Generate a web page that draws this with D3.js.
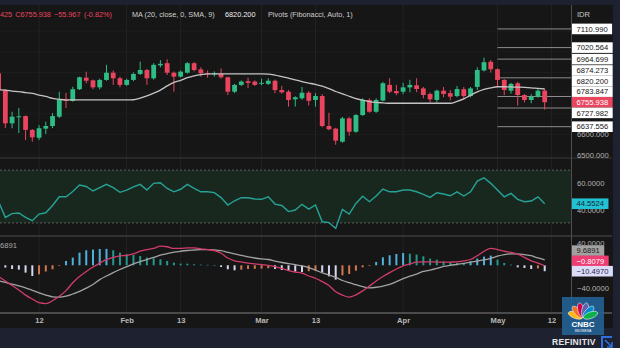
<!DOCTYPE html>
<html><head><meta charset="utf-8">
<script src="https://cdn.jsdelivr.net/npm/d3@7"></script>
<style>
html,body{margin:0;padding:0;background:#161616;overflow:hidden}
svg{display:block}
text{font-family:"Liberation Sans",Arial,sans-serif}
</style>
</head><body>
<svg id="c" width="620" height="348"></svg>
<script>
// ---------------- DATA ----------------
const opens  = [6896,6815,6654,6684,6689,6622,6584,6628,6641,6686, 6768,6762,6819,6875,6862,6828,6864,6899,6872,6840, 6864,6893,6912,6872,6935,6945,6899,6880,6899,6945, 6915,6895,6893,6893,6877,6807,6840,6858,6856,6847, 6845,6860,6815,6807,6770,6775,6802,6767,6786,6641, 6628,6565,6678,6613,6694,6767,6710,6764,6840,6810, 6807,6828,6838,6823,6796,6767,6812,6800,6786,6819, 6786,6830,6910,6952,6916,6864,6812,6848,6791,6767, 6783,6812];
const highs  = [6900,6820,6710,6728,6692,6626,6645,6662,6704,6807, 6801,6831,6880,6904,6866,6870,6937,6910,6880,6870, 6900,6953,6918,6945,6960,6964,6905,6910,6950,6950, 6925,6910,6905,6920,6880,6845,6862,6875,6862,6870, 6872,6866,6835,6815,6785,6830,6810,6800,6795,6705, 6632,6685,6685,6698,6775,6775,6775,6855,6872,6840, 6850,6865,6872,6830,6803,6817,6830,6815,6835,6830, 6830,6925,6972,6960,6920,6868,6850,6855,6795,6795, 6822,6820];
const lows   = [6810,6631,6630,6607,6573,6565,6573,6602,6631,6680, 6728,6759,6815,6848,6819,6818,6860,6840,6828,6835, 6858,6888,6840,6865,6925,6888,6807,6875,6895,6905, 6880,6875,6880,6870,6791,6800,6835,6825,6835,6838, 6840,6800,6798,6735,6735,6768,6740,6735,6635,6620, 6550,6560,6594,6608,6690,6705,6705,6760,6800,6790, 6795,6805,6805,6775,6755,6755,6780,6765,6780,6770, 6780,6815,6905,6900,6835,6790,6798,6740,6755,6751, 6778,6720];
const closes = [6815,6654,6686,6688,6622,6586,6630,6641,6689,6767, 6762,6819,6877,6860,6828,6864,6899,6872,6840,6864, 6893,6912,6872,6937,6942,6899,6880,6904,6945,6912, 6896,6893,6896,6877,6807,6840,6856,6850,6840,6850, 6860,6815,6804,6767,6780,6802,6763,6786,6641,6625, 6570,6678,6613,6694,6767,6710,6767,6848,6807,6800, 6828,6840,6820,6791,6770,6812,6796,6783,6820,6786, 6823,6912,6950,6916,6864,6815,6845,6791,6767,6783, 6811.905,6755.938];
const maValues = [6816,6815,6810,6807,6803,6799,6791,6784,6775,6770, 6767,6767,6767,6767,6767,6767,6767,6767,6767,6767, 6768,6776,6787,6800,6815,6835,6852,6862,6875,6884, 6890,6893,6893,6893,6893,6893,6893,6893,6893,6893, 6892,6887,6880,6873,6864,6856,6849,6842,6834,6822, 6808,6797,6785,6774,6766,6759,6755,6753,6751,6751, 6751,6751,6751,6751,6751,6751,6751,6751,6760,6772, 6790,6806,6818,6826,6831,6831,6830,6829,6828,6826, 6823,6820.2];
const rsiValues = [46,34.2,37.1,37.5,34.2,31.7,36.7,37.7,43.2,49.8, 49.8,53.8,58.7,57.6,54.2,56.7,59.2,56.7,53.2,54.9, 57.4,59.2,54.9,60.0,60.5,56.1,53.6,55.5,59.2,56.2, 53.6,53.6,53.0,49.2,43.6,46.8,49.1,49.1,48.1,47.9, 49.8,44.3,43.2,38.6,39.8,44.1,40.5,43.6,30.9,30.2, 25.9,40.3,36.7,44.8,50.2,46.1,50.4,55.7,53.6,53.6, 54.9,54.9,53.6,51.7,49.4,52.9,51.9,50.6,53.6,50.4, 53.6,61.7,64.2,60.0,54.9,49.8,52.4,47.9,46.1,46.6, 49.8,44.5524];
const macdValues = [-20,-28,-36,-44,-53,-60,-66.5,-68,-63,-55, -45,-31,-20,-11,-3,4,10,14,16.8,17.4, 20.4,25,28,30,34,33,30,30,31,31, 29.3,28,26,21.5,13,8,6,4,2.5,1, 0,-2.5,-5.5,-9.5,-12,-14,-19,-23,-29,-36, -47,-53,-56.5,-52.5,-45.5,-37,-28,-20,-13,-6.5, -1,2.5,5.5,6,6.2,5.8,5.5,5.8,6.2,8, 10.3,17,25,30,28,25,23,20,14,8, 4,-0.8079];
const signalValues = [-27.5,-30.5,-33.5,-36.5,-40,-44.5,-49,-53,-56,-56.7, -55,-51,-46.5,-40.5,-34,-25.5,-19,-13,-7.5,-2.5, 2.7,6.5,10.3,14,18,20.7,23.3,25,26.3,27.2, 28,28,27.5,26,23,20.4,17.5,15,13,11.5, 10.3,7.5,5,3,1,-1,-4,-8.5,-13.3,-17.3, -21.5,-27,-31,-34.5,-38,-40,-39,-37,-34,-29, -23.5,-19.4,-15.5,-11,-8.5,-5.5,-2,0,1.7,3.5, 5.5,7.5,9.5,12.5,16.2,19,20.4,20.4,19,17, 13,9.6891];
const histValues = [-3,-4,-6.5,-7.7,-13,-19,-16,-11,-7,-1.2, 7.7,13.6,22.5,26.7,27.9,29,29.2,26.7,22.5,19.6, 18.4,16.6,13.6,12.4,10.7,7.7,4.7,3,2.9,1.8, 1.2,0.8,0.3,-3,-7,-8.9,-7.7,-6.5,-6.3,-5.9, -5.3,-6.5,-8.3,-10,-11.3,-12,-10.5,-9.5,-11.9,-19.6, -25.5,-17.8,-15.4,-9.5,-3.6,-1.2,5.9,14.2,17.8,20.1, 21.9,20.7,19,16,11.9,10.1,7.1,5.9,4.1,3.6, 7.1,11.9,15.4,17.2,10.1,4.1,1.2,-3.6,-4.7,-6.5, -5.5,-10.497];
const pivotLevels = [7110.990,7020.564,6964.699,6874.273,6783.847,6727.982,6637.556];
const pivotStartIndex = 74;
const dateTickIndex  = [6,19,27,39,47,60,74,82];
const dateTickLabels = ["12","Feb","13","Mar","13","Apr","May","12"];
const priceTicks = [6500,6600];
const priceGrid  = [6500,6600,6700,6800,6900,7000,7100];
const rsiTicks   = [40,60];
const rsiBand    = [30,70];
const macdTicks  = [40,-40];
const lastClose = 6755.938, prevChange = -55.967, prevChangePct = -0.82;

// ---------------- LAYOUT ----------------
const BG = "#161616", NAVY = "#1d2130", UP = "#2ebd85", DN = "#e9455f";
const plotR = 571;
const svg = d3.select("#c");
svg.append("rect").attr("width",620).attr("height",348).attr("fill",BG);

const x  = d3.scaleLinear().domain([0,81]).range([-1.4,544.7]);
const yP = d3.scaleLinear().domain([6486,7222]).range([158,6]);
const yR = d3.scaleLinear().domain([20.1,79.2]).range([236,158]);
const yM = d3.scaleLinear().domain([-84.8,52.1]).range([313,236]);

const defs = svg.append("defs");
defs.append("clipPath").attr("id","cp").append("rect").attr("x",0).attr("y",5).attr("width",plotR).attr("height",308);
defs.append("clipPath").attr("id","cpP").append("rect").attr("x",0).attr("y",5).attr("width",plotR).attr("height",153);

const plot = svg.append("g").attr("clip-path","url(#cp)");

// grids
plot.selectAll("line.vg").data(dateTickIndex).join("line")
  .attr("x1",d=>x(d)).attr("x2",d=>x(d)).attr("y1",5).attr("y2",313)
  .attr("stroke","#232323").attr("stroke-width",1);
plot.selectAll("line.hg").data(priceGrid).join("line")
  .attr("x1",0).attr("x2",plotR).attr("y1",d=>yP(d)).attr("y2",d=>yP(d))
  .attr("stroke","#1d1d1d");

// RSI band
plot.append("rect").attr("x",0).attr("width",plotR)
  .attr("y",yR(rsiBand[1])).attr("height",yR(rsiBand[0])-yR(rsiBand[1]))
  .attr("fill","#19281f");
plot.selectAll("line.rb").data(rsiBand).join("line")
  .attr("x1",0).attr("x2",plotR).attr("y1",d=>yR(d)).attr("y2",d=>yR(d))
  .attr("stroke","#5a5f5c").attr("stroke-dasharray","2,2").attr("stroke-width",1);

// pivots
const pv = svg.append("g").attr("clip-path","url(#cpP)");
pv.selectAll("line").data(pivotLevels).join("line")
  .attr("x1",x(pivotStartIndex)).attr("x2",plotR)
  .attr("y1",d=>yP(d)).attr("y2",d=>yP(d))
  .attr("stroke","#8d8d8d").attr("stroke-width",1);

// candles
const candles = opens.map((o,i)=>({i,o,h:highs[i],l:lows[i],c:closes[i]}));
const bw = 4.8;
const cg = svg.append("g").attr("clip-path","url(#cpP)");
cg.selectAll("line").data(candles).join("line")
  .attr("x1",d=>x(d.i)).attr("x2",d=>x(d.i))
  .attr("y1",d=>yP(d.h)).attr("y2",d=>yP(d.l))
  .attr("stroke",d=>d.c>=d.o?UP:DN).attr("stroke-width",1);
cg.selectAll("rect").data(candles).join("rect")
  .attr("x",d=>x(d.i)-bw/2).attr("width",bw)
  .attr("y",d=>yP(Math.max(d.o,d.c)))
  .attr("height",d=>Math.max(1,Math.abs(yP(d.o)-yP(d.c))))
  .attr("fill",d=>d.c>=d.o?UP:DN);

// MA
cg.append("path").datum(maValues)
  .attr("d",d3.line().x((d,i)=>x(i)).y(d=>yP(d)).curve(d3.curveMonotoneX))
  .attr("fill","none").attr("stroke","#c4c4c4").attr("stroke-width",1.3);

// RSI
plot.append("path").datum(rsiValues)
  .attr("d",d3.line().x((d,i)=>x(i)).y(d=>yR(d)))
  .attr("fill","none").attr("stroke","#26a296").attr("stroke-width",1.4);

// MACD histogram
function histColor(v,i){
  const p = i>0 ? histValues[i-1] : v+1;
  if (v>=0) return v>p ? "#4fb0dc" : "#23998d";
  return v<p ? "#d6d8f2" : "#d2774f";
}
plot.selectAll("rect.h").data(histValues).join("rect")
  .attr("x",(d,i)=>x(i)-1).attr("width",2)
  .attr("y",d=>yM(Math.max(0,d))).attr("height",d=>Math.max(0.6,Math.abs(yM(d)-yM(0))))
  .attr("fill",(d,i)=>histColor(d,i));
plot.append("path").datum(signalValues)
  .attr("d",d3.line().x((d,i)=>x(i)).y(d=>yM(d)).curve(d3.curveMonotoneX))
  .attr("fill","none").attr("stroke","#a3a3a3").attr("stroke-width",1.3);
plot.append("path").datum(macdValues)
  .attr("d",d3.line().x((d,i)=>x(i)).y(d=>yM(d)).curve(d3.curveMonotoneX))
  .attr("fill","none").attr("stroke","#d23c68").attr("stroke-width",1.3);

// separators
svg.append("line").attr("x1",0).attr("x2",612).attr("y1",158).attr("y2",158).attr("stroke","#3a3a3a").attr("stroke-width",1.2);
svg.append("line").attr("x1",0).attr("x2",612).attr("y1",236).attr("y2",236).attr("stroke","#3d3d3d").attr("stroke-width",1.5);
svg.append("line").attr("x1",0).attr("x2",612).attr("y1",313).attr("y2",313).attr("stroke","#4a4a4a").attr("stroke-width",2);
svg.append("line").attr("x1",plotR+0.5).attr("x2",plotR+0.5).attr("y1",5).attr("y2",328).attr("stroke","#4e4e4e").attr("stroke-width",1);

// frames
svg.append("rect").attr("x",0).attr("y",0).attr("width",620).attr("height",5).attr("fill",NAVY);
svg.append("rect").attr("x",613).attr("y",0).attr("width",7).attr("height",348).attr("fill",NAVY);
svg.append("rect").attr("x",0).attr("y",328).attr("width",620).attr("height",20).attr("fill",NAVY);

// axes
function styleAxis(g){
  g.select(".domain").remove();
  g.selectAll("text").attr("fill","#b4b4b4").attr("font-size","7.6px")
   .attr("font-family","'Liberation Sans',Arial,sans-serif");
}
svg.append("g").attr("transform",`translate(${plotR},0)`)
  .call(d3.axisRight(yP).tickValues(priceTicks).tickFormat(d3.format(".3f")).tickSize(0).tickPadding(6))
  .call(styleAxis);
svg.append("g").attr("transform",`translate(${plotR},0)`)
  .call(d3.axisRight(yR).tickValues(rsiTicks).tickFormat(d3.format(".4f")).tickSize(0).tickPadding(6))
  .call(styleAxis);
svg.append("g").attr("transform",`translate(${plotR},0)`)
  .call(d3.axisRight(yM).tickValues(macdTicks).tickFormat(d3.format(".4f")).tickSize(0).tickPadding(6))
  .call(styleAxis);
svg.append("g").attr("transform","translate(0,313)")
  .call(d3.axisBottom(x).tickValues(dateTickIndex).tickFormat((d,i)=>dateTickLabels[i]).tickSize(0).tickPadding(5))
  .call(styleAxis)
  .call(g=>g.selectAll("text").attr("font-weight","bold").attr("fill","#b8b8b8"));

svg.append("text").attr("x",577).attr("y",17).attr("font-size","7.6px").attr("fill","#c8c8c8").text("IDR");

// value labels with collision layout around an anchor
function layout(items,gap){
  items.sort((a,b)=>a.y0-b.y0);
  const ai = items.findIndex(d=>d.anchor);
  items[ai].y = items[ai].y0;
  for(let i=ai-1;i>=0;i--) items[i].y = Math.min(items[i].y0, items[i+1].y-gap);
  for(let i=ai+1;i<items.length;i++) items[i].y = Math.max(items[i].y0, items[i-1].y+gap);
  return items;
}
function drawLabels(items){
  const g = svg.append("g");
  items.forEach(d=>{
    const t = g.append("text").attr("x",576.5).attr("y",d.y).attr("dy","0.35em")
      .attr("font-size","7.6px").attr("fill",d.fg).text(d.text);
    const w = t.node().getComputedTextLength();
    g.insert("rect","text").attr("x",572).attr("y",d.y-5.3).attr("width",w+9).attr("height",10.6).attr("fill",d.bg);
  });
}
const f3 = d3.format(".3f"), f4 = d3.format(".4f");
const priceItems = pivotLevels.map(v=>({y0:yP(v),text:f3(v),bg:"#ffffff",fg:"#131313"}));
priceItems.push({y0:yP(maValues[maValues.length-1]),text:f3(maValues[maValues.length-1]),bg:"#ffffff",fg:"#131313"});
priceItems.push({y0:yP(lastClose),text:f3(lastClose),bg:DN,fg:"#ffffff",anchor:true});
drawLabels(layout(priceItems,10.6));

const rv = rsiValues[rsiValues.length-1];
drawLabels([{y:yR(rv),text:f4(rv),bg:"#22c1d4",fg:"#0e2a30"}]);

const mv = macdValues[macdValues.length-1], sv = signalValues[signalValues.length-1], hv = histValues[histValues.length-1];
drawLabels(layout([
  {y0:yM(sv),text:f4(sv),bg:"#a2a2a2",fg:"#1a1a1a"},
  {y0:yM(mv),text:f4(mv),bg:"#ee3d73",fg:"#ffffff"},
  {y0:yM(hv),text:f4(hv),bg:"#dcdcf6",fg:"#1c2552",anchor:true}
],10.3));

// legend, laid out left to right by measured width
const lg = svg.append("g").attr("font-size","7.3px");
const legendPieces = [
  {t:"425", c:DN, x:0},
  {t:"C"+f3(lastClose), c:DN, x:10},
  {t:f3(prevChange), c:DN, x:53},
  {t:`(${prevChangePct.toFixed(2)}%)`, c:DN, x:84},
  {t:"MA (20, close, 0, SMA, 9)", c:"#cfcfcf", x:132},
  {t:f3(maValues[maValues.length-1]), c:"#efefef", x:225},
  {t:"Pivots (Fibonacci, Auto, 1)", c:"#cfcfcf", x:268}
];
let cursor = 0;
legendPieces.forEach(p=>{
  const px = Math.max(p.x, cursor);
  const t = lg.append("text").attr("x",px).attr("y",17).attr("fill",p.c).text(p.t);
  cursor = px + t.node().getComputedTextLength() + 3;
});
svg.append("text").attr("x",0).attr("y",248).attr("font-size","7.6px").attr("fill","#a8a8a8").text("6891");

// CNBC logo
const logo = svg.append("g");
logo.append("rect").attr("x",562).attr("y",297).attr("width",42).attr("height",38).attr("fill","#235f92").attr("opacity",0.92);
const feathers = ["#fcb711","#f37021","#cc004c","#6460aa","#0089d0","#0db14b"];
feathers.forEach((c,k)=>{
  const ang = -70 + k*28;
  logo.append("ellipse").attr("cx",583).attr("cy",310).attr("rx",3.2).attr("ry",7.5)
    .attr("transform",`rotate(${ang},583,318)`).attr("fill",c).attr("stroke","#ffffff").attr("stroke-width",0.5);
});
logo.append("text").attr("x",583).attr("y",327).attr("text-anchor","middle").attr("font-size","8px").attr("font-weight","bold").attr("fill","#ffffff").text("CNBC");
logo.append("text").attr("x",583).attr("y",331.5).attr("text-anchor","middle").attr("font-size","3px").attr("fill","#ffffff").text("INDONESIA");

svg.append("text").attr("x",552).attr("y",345).attr("font-size","8.5px").attr("font-weight","bold").attr("letter-spacing","0.3px").attr("fill","#e6e6e6").text("REFINITIV");
svg.append("path").attr("d","M612,337 H602 V348").attr("fill","none").attr("stroke","#2f6fe4").attr("stroke-width",2);
svg.append("path").attr("d","M605,340 L612,347 M612,342 V347 H607").attr("fill","none").attr("stroke","#2f6fe4").attr("stroke-width",1.5);
</script>
</body></html>
